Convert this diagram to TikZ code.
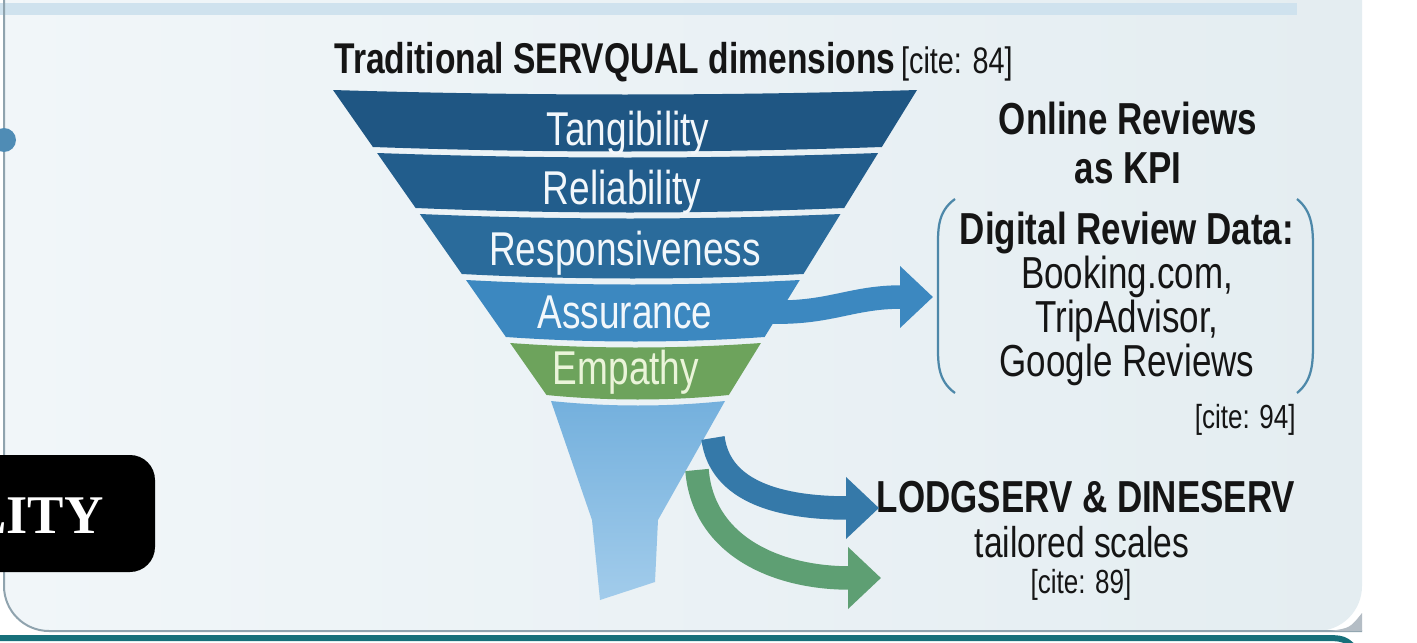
\documentclass[tikz,border=0pt]{standalone}
\usepackage{fontspec}
\setmainfont{Liberation Sans}[FakeStretch=0.78]
\newfontfamily\boxserif{Liberation Serif}
\usetikzlibrary{arrows.meta,positioning,calc}
\definecolor{panelleft}{HTML}{F1F6F9}
\definecolor{panelright}{HTML}{E4EDF1}
\definecolor{topband}{HTML}{CFE2EE}
\definecolor{edgegray}{HTML}{8FA3AE}
\definecolor{dotblue}{HTML}{4F8CB5}
\definecolor{tealedge}{HTML}{17707A}
\definecolor{curlgray}{HTML}{B4BDC5}
\definecolor{ink}{HTML}{151515}
\definecolor{tierone}{HTML}{1F5683}
\definecolor{tiertwo}{HTML}{225D8C}
\definecolor{tierthree}{HTML}{2A6B9B}
\definecolor{tierfour}{HTML}{3C88C0}
\definecolor{tiergreen}{HTML}{6DA35C}
\definecolor{spoutlight}{HTML}{74B0DD}
\definecolor{spoutpale}{HTML}{A2CCEB}
\definecolor{bandink}{HTML}{F2F7FB}
\definecolor{empink}{HTML}{EAF4D9}
\definecolor{ribbonblue}{HTML}{3579A9}
\definecolor{ribbongreen}{HTML}{5E9F73}
\definecolor{bracketblue}{HTML}{4D88A9}
\tikzset{
  bandtext/.style={text=bandink,font=\fontsize{27}{29}\selectfont,
                   anchor=base,inner sep=0pt},
  headtext/.style={text=ink,font=\fontsize{25.5}{28}\selectfont\bfseries,
                   align=center,inner sep=0pt},
  bodytext/.style={text=ink,font=\fontsize{25.5}{25}\selectfont,
                   align=center,inner sep=0pt},
  citetext/.style={text=ink,font=\fontsize{19}{21}\selectfont,inner sep=0pt},
  ribbon/.style={line width=4.7mm,-{Triangle[length=6.6mm,width=12mm]}},
  paren/.style={bracketblue,line width=0.45mm}
}

\begin{document}
\begin{tikzpicture}[x=0.2mm,y=-0.2mm]
  \useasboundingbox (0,0) rectangle (1417,643);
  % card background
  \fill[white] (0,0) rectangle (1417,643);
  \shade[left color=panelleft,right color=panelright]
    (1362,0) -- (4,0) [rounded corners=9mm] -- (4,631) -- (1362,631) [sharp corners] -- cycle;
  \fill[topband] (0,3) rectangle (1297,15);
  \draw[edgegray,line width=0.4mm] (4,0) [rounded corners=9mm] -- (4,631) -- (1362,631);
  \fill[dotblue] (4,140) circle[radius=12];
  \fill[curlgray] (1330,631) .. controls (1350,628) .. (1362,613) -- (1362,631) -- cycle;
  \draw[tealedge,line width=1.2mm] (0,638) -- (1320,638) .. controls (1345,638) .. (1358,652);

  % label tab on the left
  \fill[black,rounded corners=5mm] (-40,455) rectangle (155,572);
  \node[anchor=base east,text=white,inner sep=0pt,
        font=\boxserif\bfseries\fontsize{31}{33}\selectfont] (lity) at (104,533) {LITY};

  % heading
  \node[headtext,font=\fontsize{24.5}{26}\selectfont\bfseries,anchor=base west]
    (title) at (334,73) {Traditional SERVQUAL dimensions};
  \node[citetext,font=\fontsize{21}{22}\selectfont,right=1mm of title.base east,
        anchor=base west] (cite84) {[cite: 84]};

  % funnel tiers
  \foreach \ya/\yb/\tone in {90/147/tierone,153/208/tiertwo,214/274/tierthree,
                             280/337/tierfour,343/395/tiergreen}{
    \pgfmathsetmacro\lt{333+0.70*(\ya-90)}
    \pgfmathsetmacro\rt{917-0.617*(\ya-90)}
    \pgfmathsetmacro\lb{333+0.70*(\yb-90)}
    \pgfmathsetmacro\rb{917-0.617*(\yb-90)}
    \pgfmathsetmacro\dt{(\rt-\lt)/3}
    \pgfmathsetmacro\db{(\rb-\lb)/3}
    \fill[\tone] (\lt,\ya) .. controls (\lt+\dt,\ya+6) and (\rt-\dt,\ya+6) .. (\rt,\ya)
      -- (\rb,\yb) .. controls (\rb-\db,\yb+6) and (\lb+\db,\yb+6) .. (\lb,\yb) -- cycle;
  }
  \shade[top color=spoutlight,bottom color=spoutpale]
    (551,401) .. controls (609,407) and (667,407) .. (725,401)
    -- (658,520) -- (655,582) -- (600,600) -- (592,520) -- cycle;

  \node[bandtext] (tang) at (628,145) {Tangibility};
  \node[bandtext] (reli) at (622,204) {Reliability};
  \node[bandtext] (resp) at (625,265) {Responsiveness};
  \node[bandtext] (assu) at (625,328) {Assurance};
  \node[bandtext,text=empink] (empa) at (626,384) {Empathy};

  % online reviews
  \node[headtext] (kpi) at (1128,143) {Online Reviews\\as KPI};
  \node[bodytext] (digi) at (1127,299)
    {\textbf{Digital Review Data:}\\Booking.com,\\TripAdvisor,\\Google Reviews};
  \draw[paren] (955,199) .. controls (937,212) and (938,230) .. (938,250)
    -- (938,342) .. controls (938,362) and (937,380) .. (955,393);
  \draw[paren] (1297,199) .. controls (1313,212) and (1313,230) .. (1313,250)
    -- (1313,342) .. controls (1313,362) and (1313,380) .. (1297,393);
  \node[citetext,anchor=base east] (cite94) at (1296,428) {[cite: 94]};

  % tailored scales
  \node[headtext,anchor=base] (lodg) at (1086,512) {LODGSERV \& DINESERV};
  \node[bodytext,font=\fontsize{24.5}{26}\selectfont,anchor=base] (tailor) at (1082,557) {tailored scales};
  \node[citetext,anchor=base] (cite89) at (1081,593) {[cite: 89]};

  % arrows out of the funnel
  \coordinate (assurout) at (768,312);
  \coordinate (kpitip) at (933,297);
  \coordinate (lodgfrom) at (713,438);
  \coordinate (lodgtip) at (879,508);
  \coordinate (scalefrom) at (697,470);
  \coordinate (scaletip) at (881,578);
  \draw[ribbon,tierfour] (assurout) .. controls (830,314) and (850,297) .. (kpitip);
  \draw[ribbon,ribbonblue] (lodgfrom) .. controls (720,492) and (780,508) .. (lodgtip);
  \draw[ribbon,ribbongreen] (scalefrom) .. controls (703,545) and (775,578) .. (scaletip);
\end{tikzpicture}
\end{document}
